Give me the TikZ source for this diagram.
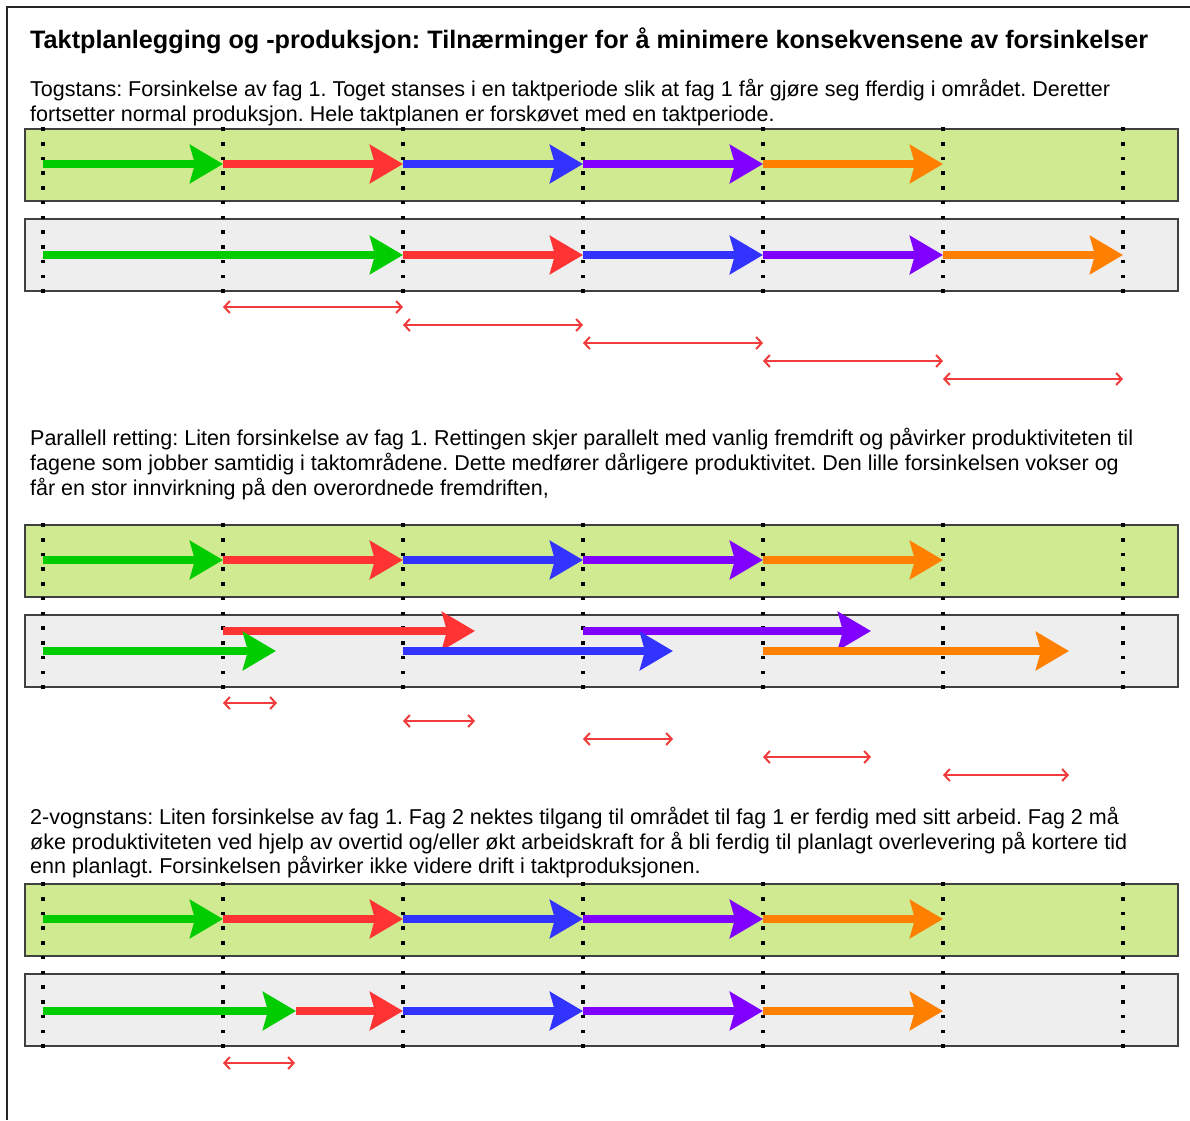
\documentclass[tikz,border=0pt]{standalone}
\usepackage{fontspec}
\setmainfont{Liberation Sans}
\usetikzlibrary{arrows.meta}
\frenchspacing

\definecolor{fgreen}{RGB}{0,204,0}
\definecolor{fred}{RGB}{255,51,51}
\definecolor{fblue}{RGB}{51,51,255}
\definecolor{fpurple}{RGB}{127,0,255}
\definecolor{forange}{RGB}{255,128,0}
\definecolor{planfill}{RGB}{207,234,144}
\definecolor{realfill}{RGB}{238,238,238}
\definecolor{boxline}{RGB}{64,64,64}
\definecolor{shiftred}{RGB}{240,60,60}

\tikzset{
  panelbox/.style={draw=boxline, line width=1.6pt},
  planbox/.style={panelbox, fill=planfill},
  realbox/.style={panelbox, fill=realfill},
  task/.style={line width=7.5pt, -{Stealth[length=33pt,width=38pt,inset=5pt]}},
  shiftarrow/.style={draw=shiftred, line width=2pt,
    {Straight Barb[length=5.5pt,width=12pt]}-{Straight Barb[length=5.5pt,width=12pt]}},
  body/.style={anchor=base west, inner sep=0pt, font=\fontsize{21.5}{26}\selectfont},
  headline/.style={anchor=base west, inner sep=0pt, font=\bfseries\fontsize{25.2}{30}\selectfont},
  griddot/.style={fill=black},
}

% two boxes (plan + real) with dotted takt lines; #1 = top y
\newcommand\taktpanel[1]{%
  \draw[planbox] (25,#1) rectangle (1178,#1+72);
  \draw[realbox] (25,#1+90) rectangle (1178,#1+162);
  \foreach \i in {0,...,6}{
    \foreach \k in {0,...,11}{
      \fill[griddot] ({43+180*\i-1.8},{#1+\k*14.73-1.8}) rectangle ++(3.6,3.6);
    }
  }
  % planned sequence
  \draw[task, fgreen]  (43,#1+35)  -- (223,#1+35);
  \draw[task, fred]    (223,#1+35) -- (403,#1+35);
  \draw[task, fblue]   (403,#1+35) -- (583,#1+35);
  \draw[task, fpurple] (583,#1+35) -- (763,#1+35);
  \draw[task, forange] (763,#1+35) -- (943,#1+35);
}

\begin{document}
\begin{tikzpicture}[x=1pt,y=-1pt]
\useasboundingbox (0,0) rectangle (1190,1120);
\fill[white] (0,0) rectangle (1190,1120);
% page frame (left and top edges)
\draw[line width=1.4pt, black!85] (7,1120) -- (7,7) -- (1190,7);

\node[headline] (title) at (30,48) {Taktplanlegging og -produksjon: Tilnærminger for å minimere konsekvensene av forsinkelser};

% ---------- Togstans ----------
\node[body] (t1a) at (30,96) {Togstans: Forsinkelse av fag 1. Toget stanses i en taktperiode slik at fag 1 får gjøre seg fferdig i området. Deretter};
\node[body] (t1b) at (30,121) {fortsetter normal produksjon. Hele taktplanen er forskøvet med en taktperiode.};

\taktpanel{129}
\draw[task, fgreen]  (43,255)  -- (403,255);
\draw[task, fred]    (403,255) -- (583,255);
\draw[task, fblue]   (583,255) -- (763,255);
\draw[task, fpurple] (763,255) -- (943,255);
\draw[task, forange] (943,255) -- (1123,255);

\draw[shiftarrow] (223,307) -- (403,307);
\draw[shiftarrow] (403,325) -- (583,325);
\draw[shiftarrow] (583,343) -- (763,343);
\draw[shiftarrow] (763,361) -- (943,361);
\draw[shiftarrow] (943,379) -- (1123,379);

% ---------- Parallell retting ----------
\node[body] (t2a) at (30,445) {Parallell retting: Liten forsinkelse av fag 1. Rettingen skjer parallelt med vanlig fremdrift og påvirker produktiviteten til};
\node[body] (t2b) at (30,470) {fagene som jobber samtidig i taktområdene. Dette medfører dårligere produktivitet. Den lille forsinkelsen vokser og};
\node[body] (t2c) at (30,495) {får en stor innvirkning på den overordnede fremdriften,};

\taktpanel{525}
\draw[task, fred]    (223,631) -- (475,631);
\draw[task, fpurple] (583,631) -- (871,631);
\draw[task, fgreen]  (43,651)  -- (276,651);
\draw[task, fblue]   (403,651) -- (673,651);
\draw[task, forange] (763,651) -- (1069,651);

\draw[shiftarrow] (223,703) -- (277,703);
\draw[shiftarrow] (403,721) -- (475,721);
\draw[shiftarrow] (583,739) -- (673,739);
\draw[shiftarrow] (763,757) -- (871,757);
\draw[shiftarrow] (943,775) -- (1069,775);

% ---------- 2-vognstans ----------
\node[body] (t3a) at (30,824) {2-vognstans: Liten forsinkelse av fag 1. Fag 2 nektes tilgang til området til fag 1 er ferdig med sitt arbeid. Fag 2 må};
\node[body] (t3b) at (30,849) {øke produktiviteten ved hjelp av overtid og/eller økt arbeidskraft for å bli ferdig til planlagt overlevering på kortere tid};
\node[body] (t3c) at (30,873) {enn planlagt. Forsinkelsen påvirker ikke videre drift i taktproduksjonen.};

\taktpanel{884}
\draw[task, fgreen]  (43,1011)  -- (296,1011);
\draw[task, fred]    (296,1011) -- (403,1011);
\draw[task, fblue]   (403,1011) -- (583,1011);
\draw[task, fpurple] (583,1011) -- (763,1011);
\draw[task, forange] (763,1011) -- (943,1011);

\draw[shiftarrow] (223,1063) -- (295,1063);
\end{tikzpicture}
\end{document}
